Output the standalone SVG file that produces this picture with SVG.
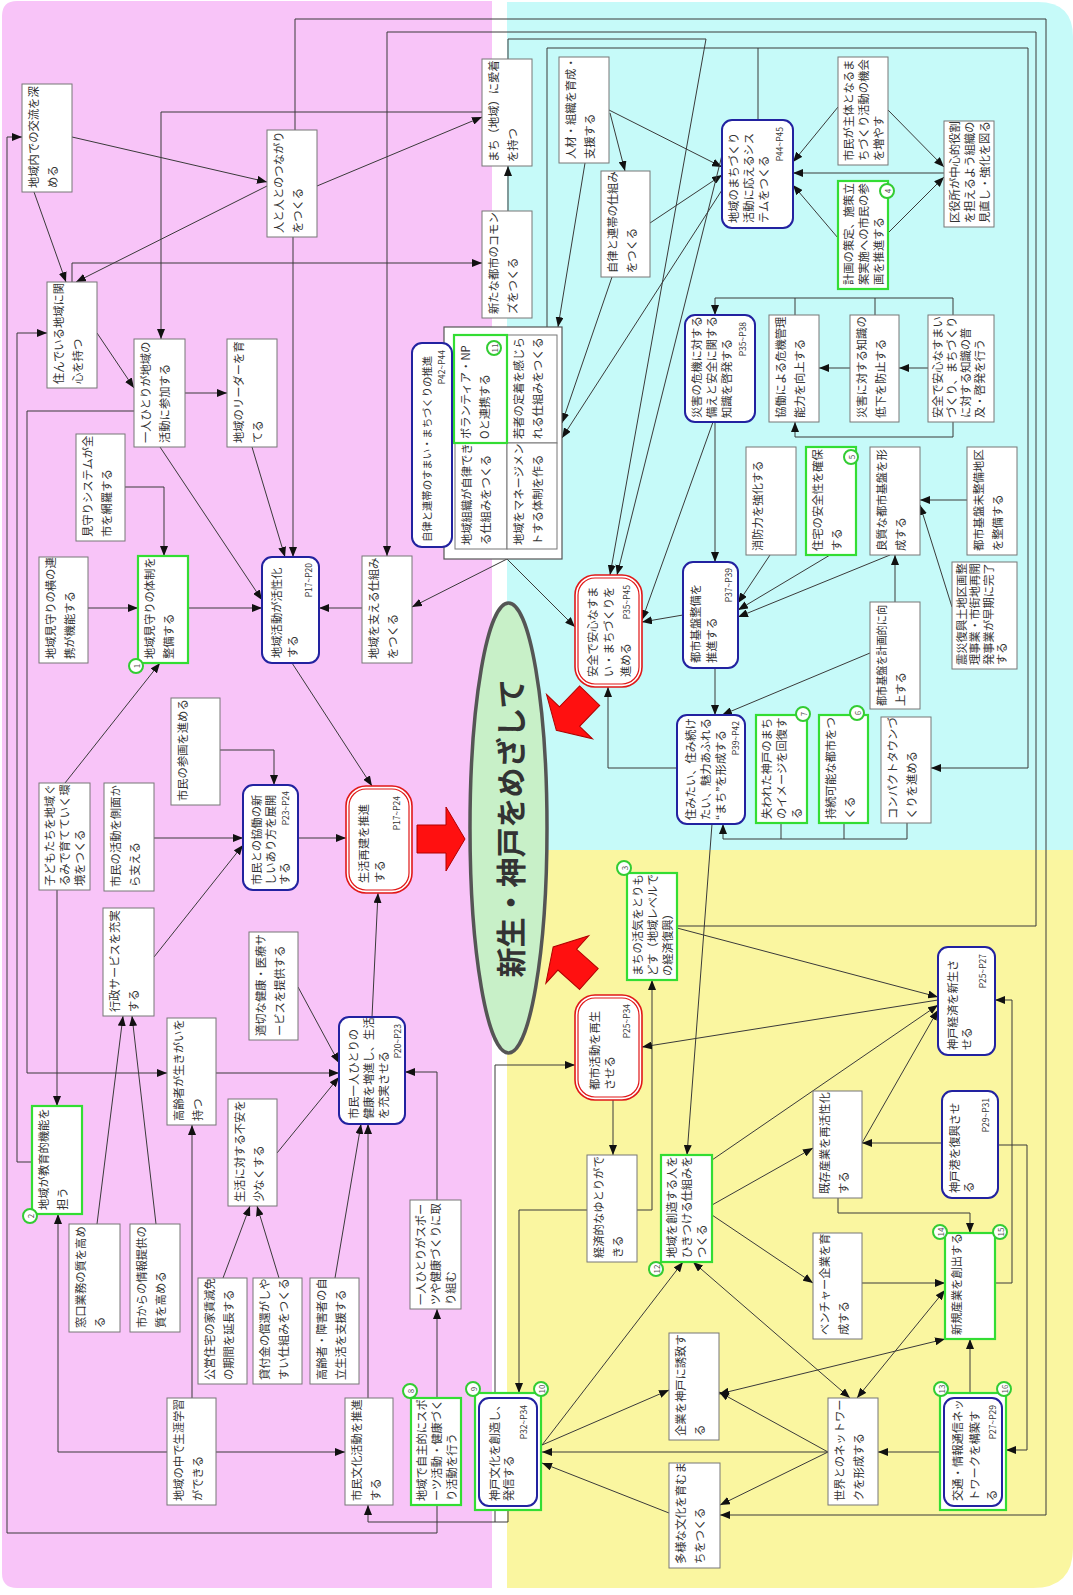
<svg xmlns="http://www.w3.org/2000/svg" width="1073" height="1595" viewBox="0 0 1073 1595">
<defs>
<marker id="ah" viewBox="0 0 10 8" refX="10" refY="4" markerWidth="10" markerHeight="8" markerUnits="userSpaceOnUse" orient="auto-start-reverse"><path d="M0,0L10,4L0,8z" fill="#111"/></marker>
<path id="bigArrow" d="M-24,-14 L5,-14 L5,-32 L24,0 L5,32 L5,14 L-24,14 Z"/>
</defs>
<style>
.bx{fill:#fff;stroke:#777;stroke-width:1}
.gb{fill:#fff;stroke:#33dd33;stroke-width:2.2}
.bl{fill:#fff;stroke:#2222a0;stroke-width:2}
.rd{fill:#fff;stroke:#e01818;stroke-width:1.6}
.rdi{fill:none;stroke:#e01818;stroke-width:1.2}
text{font-family:"Noto Sans CJK JP","Noto Sans",sans-serif;fill:#333}
.t{font-size:11.3px}
.p{font-size:8.5px;text-anchor:end}
.bd circle{fill:#fff;stroke:#33cc33;stroke-width:2}
.bd text{font-size:8px;text-anchor:middle;dominant-baseline:central;fill:#555}
#connectors path{fill:none;stroke:#3a3a3a;stroke-width:1}
.nm{marker-end:none}
.big{fill:#ff1010;stroke:#b00000;stroke-width:1}
</style>

<!-- background zones -->
<rect width="1073" height="1595" fill="#fff"/>
<path fill="#f8c4f8" d="M17,1 H492 V1588 H17 Q2,1588 2,1573 V16 Q2,1 17,1 Z"/>
<path fill="#c6faf9" d="M507,2 H1038 Q1073,2 1073,37 V850 H507 Z"/>
<path fill="#faf6a0" d="M507,850 H1073 V1548 Q1073,1588 1033,1588 H507 Z"/>

<!-- connectors -->
<g id="connectors" marker-end="url(#ah)">
<path d="M72,137 L267,182"/>
<path d="M34,192 L66,282"/>
<path d="M267,186 L76,282"/>
<path d="M317,186 L482,117"/>
<path d="M482,112 L161,112 L161,339"/>
<path d="M72,282 L72,263 L482,263"/>
<path d="M508,211 L508,166"/>
<path d="M97,333 L134,388"/>
<path d="M185,393 L227,393"/>
<path d="M293,237 L293,557"/>
<path d="M252,447 L285,557"/>
<path d="M160,447 L262,600"/>
<path d="M134,411 L27,411 L27,1073 L167,1073"/>
<path d="M32,1162 L17,1162 L17,333 L47,333"/>
<path d="M437,1505 L437,1533 L7,1533 L7,137 L22,137"/>
<path d="M437,1398 L437,1309"/>
<path d="M508,1510 L508,1522 L368,1522 L368,1505"/>
<path d="M495,1522 L495,1065 L575,1065"/>
<path d="M587,1210 L519,1210 L519,1393"/>
<path d="M637,1210 L652,1210 L652,980"/>
<path d="M613,1100 L613,1155"/>
<path d="M437,1200 L437,1072 L405,1072"/>
<path d="M368,1398 L368,1124"/>
<path d="M335,1278 L361,1124"/>
<path d="M216,1452 L345,1452"/>
<path d="M167,1452 L58,1452 L58,1214"/>
<path d="M192,1398 L192,1125"/>
<path d="M97,1224 L123,1016"/>
<path d="M156,1224 L132,1016"/>
<path d="M223,1278 L250,1206"/>
<path d="M279,1278 L257,1206"/>
<path d="M277,1153 L339,1077"/>
<path d="M298,987 L339,1063"/>
<path d="M154,957 L243,845"/>
<path d="M154,838 L243,838"/>
<path d="M298,838 L346,838"/>
<path d="M220,750 L274,750 L274,785"/>
<path d="M57,890 L57,1106"/>
<path d="M65,783 L160,663"/>
<path d="M88,608 L138,608"/>
<path d="M125,487 L164,487 L164,556"/>
<path d="M188,608 L262,608"/>
<path d="M362,608 L319,608"/>
<path d="M292,663 L372,786"/>
<path d="M372,1017 L378,893"/>
<path d="M216,1073 L339,1073"/>
<path d="M507,559 L412,607"/>
<path d="M507,559 L575,627"/>
<path d="M295,130 L295,19 L1046,19 L1046,1515 L720,1515"/>
<path d="M677,926 L1036,926 L1036,32 L387,32 L387,556"/>
<path d="M547,327 L547,48 L1028,48 L1028,768 L931,768"/>
<path class="nm" d="M758,120 L758,48"/>
<path d="M508,59 L508,39 L706,39 L610,575"/>
<path d="M609,110 L722,167"/>
<path d="M610,113 L625,171"/>
<path d="M650,223 L722,175"/>
<path d="M585,163 L558,327"/>
<path d="M722,190 L562,438"/>
<path d="M612,277 L562,423"/>
<path d="M722,155 L617,575"/>
<path d="M713,422 L642,620"/>
<path d="M683,615 L642,622"/>
<path d="M677,768 L608,768 L608,687"/>
<path d="M715,422 L715,562"/>
<path d="M715,668 L715,715"/>
<path class="nm" d="M795,315 L795,298"/>
<path class="nm" d="M875,315 L875,298"/>
<path d="M953,315 L953,298 L715,298 L715,315"/>
<path d="M928,368 L899,368"/>
<path d="M850,368 L819,368"/>
<path d="M953,422 L953,437 L795,437 L795,422"/>
<path d="M770,555 L738,603"/>
<path d="M830,555 L738,610"/>
<path d="M890,555 L738,617"/>
<path d="M967,500 L920,500"/>
<path d="M952,607 L920,505"/>
<path d="M895,602 L895,555"/>
<path d="M870,653 L722,715"/>
<path class="nm" d="M781,823 L781,839"/>
<path class="nm" d="M844,823 L844,839"/>
<path d="M907,823 L907,839 L723,839 L723,824"/>
<path d="M838,107 L793,162"/>
<path d="M838,238 L793,185"/>
<path d="M944,173 L793,173"/>
<path d="M888,110 L944,167"/>
<path d="M888,233 L944,177"/>
<path d="M712,824 L687,1155"/>
<path d="M677,928 L938,997"/>
<path d="M938,1000 L642,1047"/>
<path d="M862,1143 L938,1010"/>
<path d="M712,1160 L938,1005"/>
<path d="M712,1205 L813,1148"/>
<path d="M712,1215 L813,1283"/>
<path marker-start="url(#ah)" d="M693,1262 L850,1398"/>
<path d="M942,1143 L862,1143"/>
<path d="M838,1198 L838,1213 L970,1213 L970,1233"/>
<path d="M998,1145 L1027,1145 L1027,1450 L1006,1450"/>
<path d="M995,1283 L1012,1283 L1012,1000 L995,1000"/>
<path d="M862,1283 L945,1283"/>
<path d="M970,1393 L970,1339"/>
<path d="M940,1452 L878,1452"/>
<path d="M828,1452 L719,1392"/>
<path d="M828,1452 L720,1505"/>
<path d="M828,1452 L542,1452"/>
<path d="M669,1513 L542,1463"/>
<path d="M542,1445 L669,1390"/>
<path d="M542,1445 L683,1262"/>
<path marker-start="url(#ah)" d="M945,1290 L857,1398"/>
<path marker-start="url(#ah)" d="M945,1339 L719,1394"/>
</g>

<!-- central goal -->
<g id="goal">
<ellipse cx="508.5" cy="828" rx="38.5" ry="225" fill="#c8f0c8" stroke="#555" stroke-width="3.5"/>
<text transform="translate(509,828) rotate(-90)" text-anchor="middle" dominant-baseline="central" font-size="30" font-weight="bold" fill="#111">新生・神戸をめざして</text>
</g>
<g id="bigArrows">
<use href="#bigArrow" class="big" transform="translate(441,839)"/>
<use href="#bigArrow" class="big" transform="translate(573,713) rotate(134)"/>
<use href="#bigArrow" class="big" transform="translate(571,963) rotate(222)"/>
</g>

<!-- life / community zone -->
<g id="nA" transform="translate(22,192) rotate(-90)"><rect class="bx" width="108" height="50"/><text class="t" x="4" y="16">地域内での交流を深</text><text class="t" x="4" y="35">める</text></g>
<g id="nB" transform="translate(267,237) rotate(-90)"><rect class="bx" width="107" height="50"/><text class="t" x="4" y="16">人と人とのつながり</text><text class="t" x="4" y="35">をつくる</text></g>
<g id="nC" transform="translate(47,388) rotate(-90)"><rect class="bx" width="106" height="50"/><text class="t" x="4" y="16">住んでいる地域に関</text><text class="t" x="4" y="35">心を持つ</text></g>
<g id="nD" transform="translate(134,447) rotate(-90)"><rect class="bx" width="108" height="51"/><text class="t" x="4" y="16">一人ひとりが地域の</text><text class="t" x="4" y="35">活動に参加する</text></g>
<g id="nE" transform="translate(227,447) rotate(-90)"><rect class="bx" width="108" height="50"/><text class="t" x="4" y="16">地域のリーダーを育</text><text class="t" x="4" y="35">てる</text></g>
<g id="nF" transform="translate(482,166) rotate(-90)"><rect class="bx" width="107" height="50"/><text class="t" x="4" y="16">まち（地域）に愛着</text><text class="t" x="4" y="35">を持つ</text></g>
<g id="nG" transform="translate(482,318) rotate(-90)"><rect class="bx" width="107" height="50"/><text class="t" x="4" y="16">新たな都市のコモン</text><text class="t" x="4" y="35">ズをつくる</text></g>
<g id="nMimaSys" transform="translate(76,541) rotate(-90)"><rect class="bx" width="107" height="49"/><text class="t" x="4" y="16">見守りシステムが全</text><text class="t" x="4" y="35">市を網羅する</text></g>
<g id="nYoko" transform="translate(39,663) rotate(-90)"><rect class="bx" width="106" height="49"/><text class="t" x="4" y="16">地域見守りの横の連</text><text class="t" x="4" y="35">携が機能する</text></g>
<g id="nMima"><g transform="translate(138,663) rotate(-90)"><rect class="gb" width="107" height="50"/><text class="t" x="4" y="16">地域見守りの体制を</text><text class="t" x="4" y="35">整備する</text></g><g class="bd" transform="translate(136,666)"><circle r="7"/><text transform="rotate(-90)">1</text></g></g>
<g id="nKatsudo" transform="translate(262,663) rotate(-90)"><rect class="bl" width="106" height="57" rx="10"/><text class="t" x="5" y="19">地域活動が活性化</text><text class="t" x="5" y="35">する</text><text class="p" x="100" y="50">P17~P20</text></g>
<g id="nSasaeru" transform="translate(362,663) rotate(-90)"><rect class="bx" width="107" height="50"/><text class="t" x="4" y="16">地域を支える仕組み</text><text class="t" x="4" y="35">をつくる</text></g>
<g id="nSankaku" transform="translate(171,805) rotate(-90)"><rect class="bx" width="107" height="49"/><text class="t" x="4" y="16">市民の参画を進める</text></g>
<g id="nKodomo" transform="translate(39,890) rotate(-90)"><rect class="bx" width="107" height="51"/><text class="t" x="4" y="15">子どもたちを地域ぐ</text><text class="t" x="4" y="30">るみで育てていく環</text><text class="t" x="4" y="45">境をつくる</text></g>
<g id="nSokumen" transform="translate(104,891) rotate(-90)"><rect class="bx" width="108" height="50"/><text class="t" x="4" y="16">市民の活動を側面か</text><text class="t" x="4" y="35">ら支える</text></g>
<g id="nKyodo" transform="translate(243,890) rotate(-90)"><rect class="bl" width="105" height="55" rx="10"/><text class="t" x="5" y="18">市民との協働の新</text><text class="t" x="5" y="32">しいあり方を展開</text><text class="t" x="5" y="46">する</text><text class="p" x="99" y="46">P23~P24</text></g>
<g id="nSeikatsu" transform="translate(346,893) rotate(-90)"><rect class="rd" width="107" height="66" rx="20"/><rect class="rdi" x="3" y="3" width="101" height="60" rx="17"/><text class="t" x="10" y="22">生活再建を推進</text><text class="t" x="10" y="38">する</text><text class="p" x="97" y="54">P17~P24</text></g>
<g id="nGyosei" transform="translate(103,1016) rotate(-90)"><rect class="bx" width="108" height="51"/><text class="t" x="4" y="16">行政サービスを充実</text><text class="t" x="4" y="35">する</text></g>
<g id="nIryo" transform="translate(249,1040) rotate(-90)"><rect class="bx" width="108" height="49"/><text class="t" x="4" y="16">適切な健康・医療サ</text><text class="t" x="4" y="35">ービスを提供する</text></g>
<g id="nKoreisha" transform="translate(167,1125) rotate(-90)"><rect class="bx" width="107" height="49"/><text class="t" x="4" y="16">高齢者が生きがいを</text><text class="t" x="4" y="35">持つ</text></g>
<g id="nKyoiku"><g transform="translate(32,1214) rotate(-90)"><rect class="gb" width="108" height="50"/><text class="t" x="4" y="16">地域が教育的機能を</text><text class="t" x="4" y="35">担う</text></g><g class="bd" transform="translate(30,1216)"><circle r="7"/><text transform="rotate(-90)">2</text></g></g>
<g id="nFuan" transform="translate(228,1206) rotate(-90)"><rect class="bx" width="107" height="49"/><text class="t" x="4" y="16">生活に対する不安を</text><text class="t" x="4" y="35">少なくする</text></g>
<g id="nKenko" transform="translate(339,1124) rotate(-90)"><rect class="bl" width="107" height="66" rx="10"/><text class="t" x="5" y="19">市民一人ひとりの</text><text class="t" x="5" y="34">健康を増進し、生活</text><text class="t" x="5" y="49">を充実させる</text><text class="p" x="100" y="62">P20~P23</text></g>
<g id="nMado" transform="translate(69,1332) rotate(-90)"><rect class="bx" width="108" height="51"/><text class="t" x="4" y="16">窓口業務の質を高め</text><text class="t" x="4" y="35">る</text></g>
<g id="nJoho" transform="translate(130,1332) rotate(-90)"><rect class="bx" width="108" height="50"/><text class="t" x="4" y="16">市からの情報提供の</text><text class="t" x="4" y="35">質を高める</text></g>
<g id="nKoei" transform="translate(198,1384) rotate(-90)"><rect class="bx" width="106" height="49"/><text class="t" x="4" y="16">公営住宅の家賃減免</text><text class="t" x="4" y="35">の期間を延長する</text></g>
<g id="nKashi" transform="translate(253,1384) rotate(-90)"><rect class="bx" width="106" height="49"/><text class="t" x="4" y="16">貸付金の償還がしや</text><text class="t" x="4" y="35">すい仕組みをつくる</text></g>
<g id="nJiritsu" transform="translate(310,1384) rotate(-90)"><rect class="bx" width="106" height="49"/><text class="t" x="4" y="16">高齢者・障害者の自</text><text class="t" x="4" y="35">立生活を支援する</text></g>
<g id="nShogai" transform="translate(167,1505) rotate(-90)"><rect class="bx" width="107" height="49"/><text class="t" x="4" y="16">地域の中で生涯学習</text><text class="t" x="4" y="35">ができる</text></g>
<g id="nBunka" transform="translate(345,1505) rotate(-90)"><rect class="bx" width="107" height="48"/><text class="t" x="4" y="16">市民文化活動を推進</text><text class="t" x="4" y="35">する</text></g>
<g id="nSports" transform="translate(410,1309) rotate(-90)"><rect class="bx" width="109" height="51"/><text class="t" x="4" y="15">一人ひとりがスポー</text><text class="t" x="4" y="30">ツや健康づくりに取</text><text class="t" x="4" y="45">り組む</text></g>
<g id="nSports8"><g transform="translate(411,1505) rotate(-90)"><rect class="gb" width="107" height="50"/><text class="t" x="4" y="15">地域で自主的にスポ</text><text class="t" x="4" y="30">ーツ活動・健康づく</text><text class="t" x="4" y="45">り活動を行う</text></g><g class="bd" transform="translate(410,1391)"><circle r="7"/><text transform="rotate(-90)">8</text></g></g>
<g id="nKobeBunka"><g transform="translate(479,1506) rotate(-90)"><rect class="gb" x="-4" y="-4" width="117" height="66"/><rect class="bl" width="108" height="58" rx="10"/><text class="t" x="5" y="20">神戸文化を創造し、</text><text class="t" x="5" y="34">発信する</text><text class="p" x="101" y="48">P32~P34</text></g><g class="bd" transform="translate(473,1389)"><circle r="7"/><text transform="rotate(-90)">9</text></g><g class="bd" transform="translate(541,1389)"><circle r="7"/><text transform="rotate(-90)">10</text></g></g>

<!-- safety / community system zone -->
<g id="nGroup">
<rect x="444" y="327" width="118" height="232" fill="#fff" stroke="#555" stroke-width="1.2"/>
<g transform="translate(507,443) rotate(-90)"><rect class="bx" width="108" height="50"/><text class="t" x="4" y="16">若者の定着を感じら</text><text class="t" x="4" y="35">れる仕組みをつくる</text></g>
<g transform="translate(455,549) rotate(-90)"><rect class="bx" width="106" height="52"/><text class="t" x="4" y="16">地域組織が自律でき</text><text class="t" x="4" y="35">る仕組みをつくる</text></g>
<g transform="translate(507,549) rotate(-90)"><rect class="bx" width="106" height="50"/><text class="t" x="4" y="16">地域をマネージメン</text><text class="t" x="4" y="35">トする体制を作る</text></g>
<g transform="translate(454,443) rotate(-90)"><rect class="gb" width="108" height="53"/><text class="t" x="4" y="16">ボランティア・NP</text><text class="t" x="4" y="35">Oと連携する</text></g>
<g class="bd" transform="translate(494,348)"><circle r="7"/><text transform="rotate(-90)">11</text></g>
</g>
<g id="nJ" transform="translate(412,547) rotate(-90)"><rect class="bl" width="204" height="40" rx="10"/><text x="5" y="19" font-size="10.3" textLength="186" lengthAdjust="spacingAndGlyphs">自律と連帯のすまい・まちづくりの推進</text><text class="p" x="197" y="33">P42~P44</text></g>
<g id="nH" transform="translate(559,163) rotate(-90)"><rect class="bx" width="106" height="50"/><text class="t" x="4" y="16">人材・組織を育成・</text><text class="t" x="4" y="35">支援する</text></g>
<g id="nI" transform="translate(601,277) rotate(-90)"><rect class="bx" width="106" height="49"/><text class="t" x="4" y="16">自律と連帯の仕組み</text><text class="t" x="4" y="35">をつくる</text></g>
<g id="nK" transform="translate(722,228) rotate(-90)"><rect class="bl" width="108" height="71" rx="10"/><text class="t" x="5" y="16">地域のまちづくり</text><text class="t" x="5" y="31">活動に応えるシス</text><text class="t" x="5" y="46">テムをつくる</text><text class="p" x="101" y="61">P44~P45</text></g>
<g id="nL" transform="translate(838,165) rotate(-90)"><rect class="bx" width="108" height="50"/><text class="t" x="4" y="15">市民が主体となるま</text><text class="t" x="4" y="30">ちづくり活動の機会</text><text class="t" x="4" y="45">を増やす</text></g>
<g id="nM"><g transform="translate(838,289) rotate(-90)"><rect class="gb" width="108" height="50"/><text class="t" x="4" y="15">計画の策定、施策立</text><text class="t" x="4" y="30">案実施への市民の参</text><text class="t" x="4" y="45">画を推進する</text></g><g class="bd" transform="translate(887,191)"><circle r="7"/><text transform="rotate(-90)">4</text></g></g>
<g id="nN" transform="translate(944,227) rotate(-90)"><rect class="bx" width="106" height="50"/><text class="t" x="4" y="15">区役所が中心的役割</text><text class="t" x="4" y="30">を担えるよう組織の</text><text class="t" x="4" y="45">見直し・強化を図る</text></g>
<g id="nO" transform="translate(685,422) rotate(-90)"><rect class="bl" width="107" height="70" rx="10"/><text class="t" x="4" y="16">災害の危機に対する</text><text class="t" x="4" y="31">備えと安全に関する</text><text class="t" x="4" y="46">知識を啓発する</text><text class="p" x="100" y="61">P35~P38</text></g>
<g id="nP" transform="translate(769,422) rotate(-90)"><rect class="bx" width="107" height="50"/><text class="t" x="4" y="16">協働による危機管理</text><text class="t" x="4" y="35">能力を向上する</text></g>
<g id="nQ" transform="translate(850,422) rotate(-90)"><rect class="bx" width="107" height="49"/><text class="t" x="4" y="16">災害に対する知識の</text><text class="t" x="4" y="35">低下を防止する</text></g>
<g id="nR" transform="translate(928,422) rotate(-90)"><rect class="bx" width="107" height="66"/><text class="t" x="4" y="14">安全で安心なすまい</text><text class="t" x="4" y="28">づくり、まちづくり</text><text class="t" x="4" y="42">に対する知識の普</text><text class="t" x="4" y="56">及・啓発を行う</text></g>
<g id="nS" transform="translate(746,555) rotate(-90)"><rect class="bx" width="108" height="50"/><text class="t" x="4" y="16">消防力を強化する</text></g>
<g id="nT"><g transform="translate(806,555) rotate(-90)"><rect class="gb" width="108" height="50"/><text class="t" x="4" y="16">住宅の安全性を確保</text><text class="t" x="4" y="35">する</text></g><g class="bd" transform="translate(851,457)"><circle r="7"/><text transform="rotate(-90)">5</text></g></g>
<g id="nU" transform="translate(870,555) rotate(-90)"><rect class="bx" width="108" height="50"/><text class="t" x="4" y="16">良質な都市基盤を形</text><text class="t" x="4" y="35">成する</text></g>
<g id="nV" transform="translate(967,555) rotate(-90)"><rect class="bx" width="108" height="50"/><text class="t" x="4" y="16">都市基盤未整備地区</text><text class="t" x="4" y="35">を整備する</text></g>
<g id="nW" transform="translate(952,669) rotate(-90)"><rect class="bx" width="107" height="65"/><text class="t" x="4" y="14">震災復興土地区画整</text><text class="t" x="4" y="27">理事業・市街地再開</text><text class="t" x="4" y="41">発事業が早期に完了</text><text class="t" x="4" y="54">する</text></g>
<g id="nX" transform="translate(870,709) rotate(-90)"><rect class="bx" width="107" height="50"/><text class="t" x="3" y="16" textLength="101" lengthAdjust="spacingAndGlyphs">都市基盤を計画的に向</text><text class="t" x="3" y="35">上する</text></g>
<g id="nY" transform="translate(683,668) rotate(-90)"><rect class="bl" width="106" height="55" rx="10"/><text class="t" x="5" y="17">都市基盤整備を</text><text class="t" x="5" y="33">推進する</text><text class="p" x="100" y="49">P37~P39</text></g>
<g id="nZ" transform="translate(677,824) rotate(-90)"><rect class="bl" width="109" height="68" rx="10"/><text class="t" x="4" y="18">住みたい、住み続け</text><text class="t" x="4" y="33">たい、魅力あふれる</text><text class="t" x="4" y="48">“まち”を形成する</text><text class="p" x="103" y="62">P39~P42</text></g>
<g id="nAA"><g transform="translate(756,823) rotate(-90)"><rect class="gb" width="108" height="51"/><text class="t" x="4" y="15">失われた神戸のまち</text><text class="t" x="4" y="30">のイメージを回復す</text><text class="t" x="4" y="45">る</text></g><g class="bd" transform="translate(803,714)"><circle r="7"/><text transform="rotate(-90)">7</text></g></g>
<g id="nAB"><g transform="translate(819,823) rotate(-90)"><rect class="gb" width="108" height="49"/><text class="t" x="4" y="16">持続可能な都市をつ</text><text class="t" x="4" y="35">くる</text></g><g class="bd" transform="translate(857,713)"><circle r="7"/><text transform="rotate(-90)">6</text></g></g>
<g id="nAC" transform="translate(881,823) rotate(-90)"><rect class="bx" width="106" height="50"/><text class="t" x="4" y="16">コンパクトタウンづ</text><text class="t" x="4" y="35">くりを進める</text></g>
<g id="nAnzen" transform="translate(575,687) rotate(-90)"><rect class="rd" width="112" height="67" rx="20"/><rect class="rdi" x="3" y="3" width="106" height="61" rx="17"/><text class="t" x="10" y="22">安全で安心なすま</text><text class="t" x="10" y="38">い・まちづくりを</text><text class="t" x="10" y="55">進める</text><text class="p" x="102" y="55">P35~P45</text></g>

<!-- economy zone -->
<g id="nKakki"><g transform="translate(627,980) rotate(-90)"><rect class="gb" width="107" height="50"/><text class="t" x="4" y="15">まちの活気をとりも</text><text class="t" x="4" y="30">どす（地域レベルで</text><text class="t" x="4" y="45">の経済復興）</text></g><g class="bd" transform="translate(624,868)"><circle r="7"/><text transform="rotate(-90)">3</text></g></g>
<g id="nToshi" transform="translate(575,1100) rotate(-90)"><rect class="rd" width="105" height="67" rx="20"/><rect class="rdi" x="3" y="3" width="99" height="61" rx="17"/><text class="t" x="10" y="24">都市活動を再生</text><text class="t" x="10" y="39">させる</text><text class="p" x="96" y="55">P25~P34</text></g>
<g id="nYutori" transform="translate(587,1262) rotate(-90)"><rect class="bx" width="107" height="50"/><text class="t" x="4" y="16">経済的なゆとりがで</text><text class="t" x="4" y="35">きる</text></g>
<g id="nSozo"><g transform="translate(661,1262) rotate(-90)"><rect class="gb" width="107" height="51"/><text class="t" x="4" y="15">地域を創造する人を</text><text class="t" x="4" y="30">ひきつける仕組みを</text><text class="t" x="4" y="45">つくる</text></g><g class="bd" transform="translate(656,1269)"><circle r="7"/><text transform="rotate(-90)">12</text></g></g>
<g id="nKigyo" transform="translate(669,1440) rotate(-90)"><rect class="bx" width="107" height="50"/><text class="t" x="4" y="16">企業を神戸に誘致す</text><text class="t" x="4" y="35">る</text></g>
<g id="nTayo" transform="translate(669,1568) rotate(-90)"><rect class="bx" width="105" height="51"/><text class="t" x="4" y="16">多様な文化を育むま</text><text class="t" x="4" y="35">ちをつくる</text></g>
<g id="nKeizai" transform="translate(938,1055) rotate(-90)"><rect class="bl" width="108" height="57" rx="10"/><text class="t" x="5" y="19">神戸経済を新生さ</text><text class="t" x="5" y="33">せる</text><text class="p" x="101" y="48">P25~P27</text></g>
<g id="nKison" transform="translate(813,1198) rotate(-90)"><rect class="bx" width="107" height="49"/><text class="t" x="4" y="16">既存産業を再活性化</text><text class="t" x="4" y="35">する</text></g>
<g id="nKobeko" transform="translate(942,1198) rotate(-90)"><rect class="bl" width="107" height="56" rx="10"/><text class="t" x="5" y="17">神戸港を復興させ</text><text class="t" x="5" y="31">る</text><text class="p" x="100" y="47">P29~P31</text></g>
<g id="nVenture" transform="translate(813,1339) rotate(-90)"><rect class="bx" width="106" height="49"/><text class="t" x="4" y="16">ベンチャー企業を育</text><text class="t" x="4" y="35">成する</text></g>
<g id="nShinki"><g transform="translate(945,1339) rotate(-90)"><rect class="gb" width="106" height="50"/><text class="t" x="4" y="16">新規産業を創出する</text></g><g class="bd" transform="translate(940,1232)"><circle r="7"/><text transform="rotate(-90)">14</text></g><g class="bd" transform="translate(1000,1232)"><circle r="7"/><text transform="rotate(-90)">15</text></g></g>
<g id="nSekai" transform="translate(828,1505) rotate(-90)"><rect class="bx" width="107" height="50"/><text class="t" x="4" y="16">世界とのネットワー</text><text class="t" x="4" y="35">クを形成する</text></g>
<g id="nKotsu"><g transform="translate(944,1506) rotate(-90)"><rect class="gb" x="-4" y="-4" width="117" height="66"/><rect class="bl" width="108" height="58" rx="10"/><text class="t" x="5" y="18">交通・情報通信ネッ</text><text class="t" x="5" y="35">トワークを構築す</text><text class="t" x="5" y="52">る</text><text class="p" x="101" y="52">P27~P29</text></g><g class="bd" transform="translate(941,1389)"><circle r="7"/><text transform="rotate(-90)">13</text></g><g class="bd" transform="translate(1004,1389)"><circle r="7"/><text transform="rotate(-90)">16</text></g></g>
</svg>
